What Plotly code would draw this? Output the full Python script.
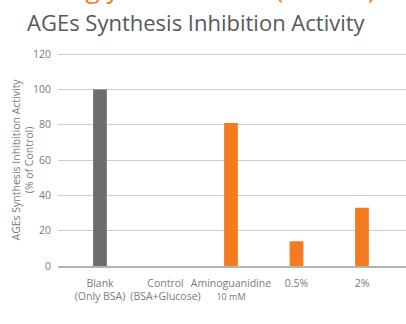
import plotly.graph_objects as go

# Categories and measured inhibition activity (% of control)
categories = ["Blank", "Control", "Aminoguanidine", "0.5%", "2%"]
tick_labels = [
    "Blank<br>(Only BSA)",
    "Control<br>(BSA+Glucose)",
    "Aminoguanidine<br><span style='font-size:9px'>10 mM</span>",
    "0.5%",
    "2%",
]
values = [100, 0, 81, 14, 33]
bar_colors = ["#6d6e71", "#f47b20", "#f47b20", "#f47b20", "#f47b20"]
y_ticks = [0, 20, 40, 60, 80, 100, 120]

W, H = 406, 324
L, R, T, B = 58, 0, 53, 58
FONT = "Open Sans"
plot_w = W - L - R
plot_h = H - T - B

fig = go.Figure(
    go.Bar(
        x=categories,
        y=values,
        marker=dict(color=bar_colors, line=dict(width=0)),
        width=0.21,
    )
)

fig.update_layout(
    width=W,
    height=H,
    margin=dict(l=L, r=R, t=T, b=B),
    paper_bgcolor="white",
    plot_bgcolor="white",
    showlegend=False,
    font=dict(family=FONT, color="#7a7a7a", size=11),
    title=dict(
        text="AGEs Synthesis Inhibition Activity",
        x=27 / W,
        xanchor="left",
        xref="container",
        y=1 - 23 / H,
        yanchor="middle",
        yref="container",
        font=dict(family=FONT, size=22, color="#58595b"),
    ),
)

fig.update_xaxes(
    type="category",
    tickvals=categories,
    ticktext=tick_labels,
    range=[-0.641, 4.672],
    showgrid=False,
    showline=True,
    linecolor="#b4b4b4",
    linewidth=2,
    ticks="",
    tickangle=0,
    automargin=False,
    ticklabelstandoff=6,
    tickfont=dict(size=10.5, color="#7a7a7a"),
)

fig.update_yaxes(
    range=[0, 120.6],
    tickvals=y_ticks,
    showgrid=True,
    gridcolor="#cccccc",
    gridwidth=1,
    zeroline=False,
    showline=False,
    ticks="",
    ticklabelstandoff=6,
    automargin=False,
    tickfont=dict(size=10.5, color="#7a7a7a"),
)

# Vertical axis caption
fig.add_annotation(
    text="AGEs Synthesis Inhibition Activity<br>(% of Control)",
    xref="paper",
    yref="paper",
    x=(22 - L) / plot_w,
    y=0.5,
    xanchor="center",
    yanchor="middle",
    textangle=-90,
    showarrow=False,
    font=dict(family=FONT, size=10.5, color="#7a7a7a"),
)

# Heading line above the chart title
fig.add_annotation(
    text="Anti-glycation Effect (In vitro)",
    xref="paper",
    yref="paper",
    x=(27 - L) / plot_w,
    y=1 + (T - 8) / plot_h,
    xanchor="left",
    yanchor="bottom",
    showarrow=False,
    font=dict(family=FONT, size=26, color="#f47b20"),
)

fig.write_html("out.html")
